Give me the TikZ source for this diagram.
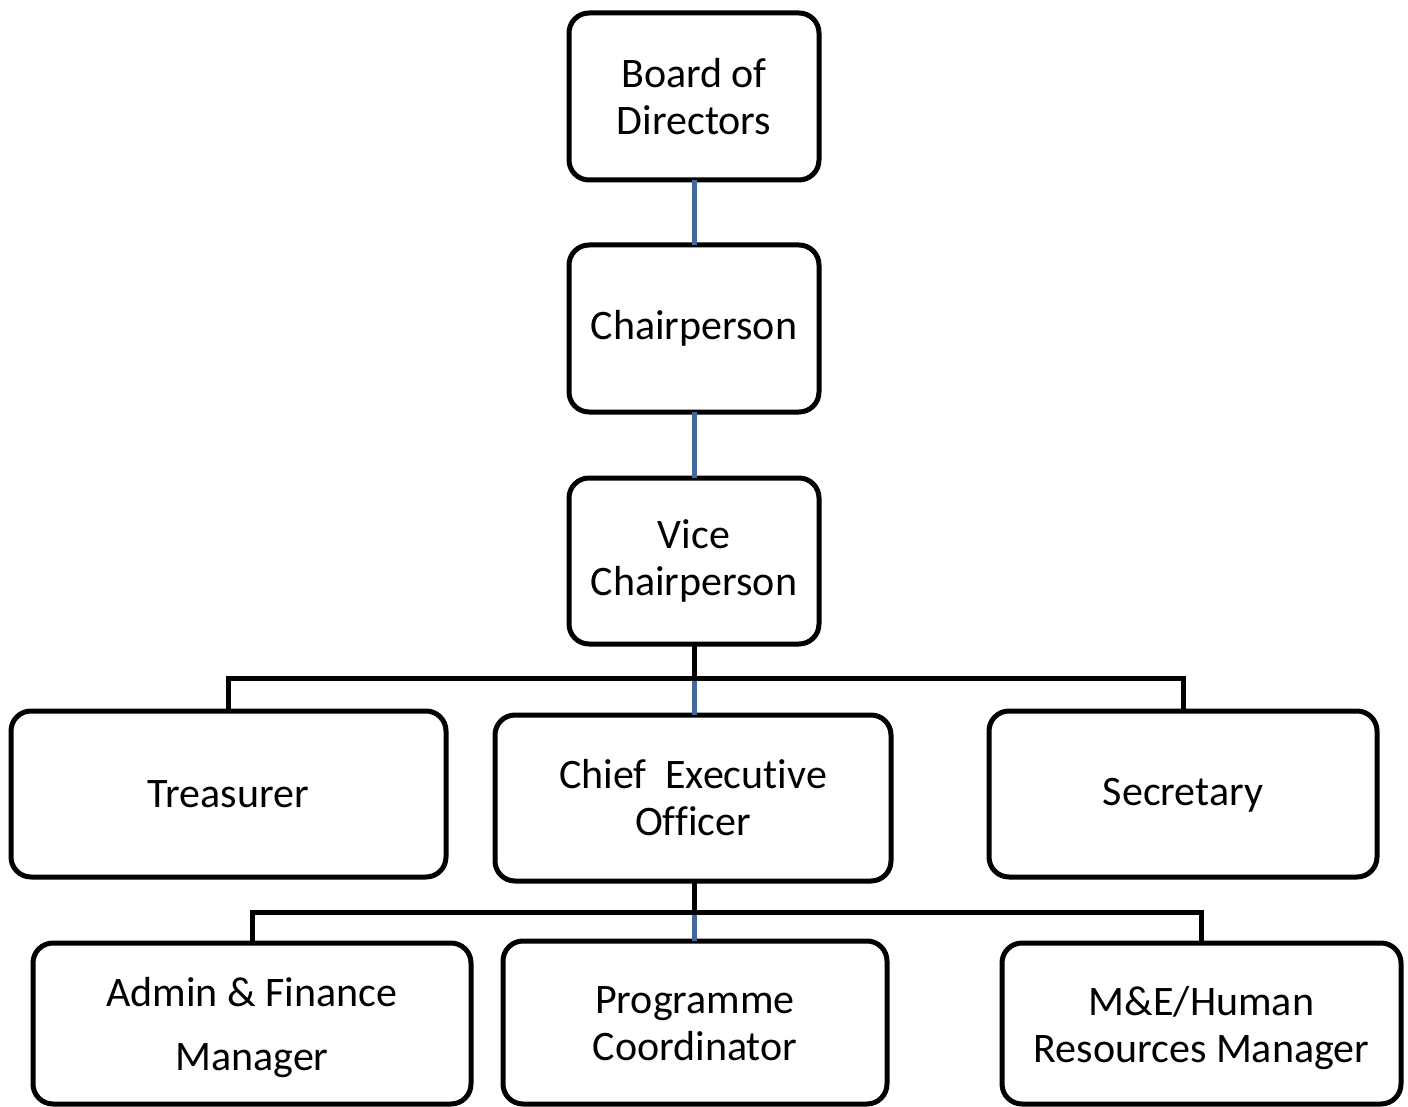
\documentclass[tikz,border=0pt]{standalone}
\usepackage{fontspec}
\setmainfont{Carlito}[Ligatures=NoCommon]
\definecolor{linkblue}{RGB}{66,104,156}
\newcommand{\lowtext}[2]{\raisebox{-#1}[\height][\depth]{\begin{tabular}{@{}c@{}}#2\end{tabular}}}
\begin{document}
\begin{tikzpicture}[x=1pt,y=-1pt,
  box/.style={draw=black,line width=5pt,rounded corners=20pt,fill=white,
    inner sep=0pt,outer sep=0pt,align=center,
    font=\fontsize{42}{47}\selectfont},
  bline/.style={draw=black,line width=5pt},
  blink/.style={draw=linkblue,line width=5pt}]
\useasboundingbox (0,0) rectangle (1408,1107);
\node[box,minimum width=250pt,minimum height=167pt] (board) at (694,96.5) {Board of\\Directors};
\node[box,minimum width=250pt,minimum height=167pt] (chair) at (694,328.5) {Chairperson};
\node[box,minimum width=250pt,minimum height=166pt] (vice) at (694,561) {Vice\\Chairperson};
\node[box,minimum width=435pt,minimum height=166pt] (treas) at (228.5,794) {Treasurer};
\node[box,minimum width=396pt,minimum height=166pt] (ceo) at (693,798) {Chief~~Executive\\Officer};
\node[box,minimum width=388pt,minimum height=166pt] (sec) at (1183,794) {\lowtext{2pt}{Secretary}};
\node[box,minimum width=438pt,minimum height=161pt,font=\fontsize{42}{64}\selectfont] (admin) at (252,1023.5) {\lowtext{2pt}{Admin \& Finance\\Manager}};
\node[box,minimum width=384pt,minimum height=163pt] (prog) at (695,1022.5) {\lowtext{5pt}{Programme\\Coordinator}};
\node[box,minimum width=399pt,minimum height=161pt] (me) at (1201.5,1023.5) {\lowtext{6pt}{M\&E/Human\\Resources Manager}};
\coordinate (bus1) at (694,678);
\coordinate (bus2) at (694,912);
\draw[blink] (board.south) -- (chair.north);
\draw[blink] (chair.south) -- (vice.north);
\draw[blink] (bus1) -- (ceo.north -| bus1);
\draw[blink] (bus2) -- (prog.north -| bus2);
\draw[bline] (vice.south) -- (bus1);
\draw[bline] (treas.north) -- (treas.north |- bus1) -- (sec.north |- bus1) -- (sec.north);
\draw[bline] (ceo.south -| bus2) -- (bus2);
\draw[bline] (admin.north) -- (admin.north |- bus2) -- (me.north |- bus2) -- (me.north);
\end{tikzpicture}
\end{document}
